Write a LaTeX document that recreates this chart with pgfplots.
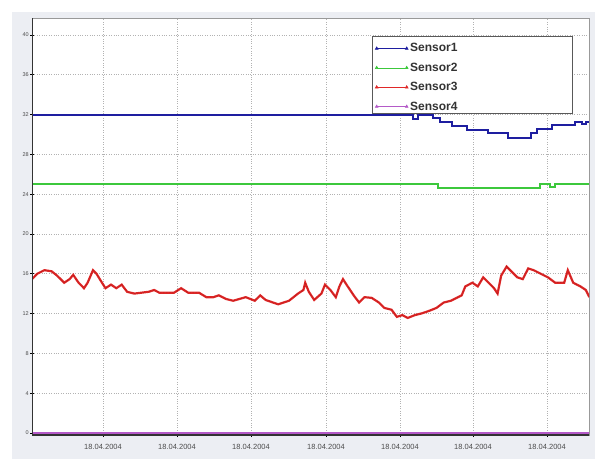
\documentclass[border=0pt]{standalone}
\usepackage{fontspec}
\setmainfont{Liberation Sans}
\setsansfont{Liberation Sans}
\usepackage{pgfplots}
\pgfplotsset{compat=1.18}

\definecolor{panelgray}{HTML}{ECEEF3}
\definecolor{sensorblue}{HTML}{1E1EA0}
\definecolor{sensorgreen}{HTML}{3CC83C}
\definecolor{sensorred}{HTML}{E02828}
\definecolor{sensordark}{HTML}{A01414}
\definecolor{sensorpurple}{HTML}{B45AC8}

\begin{document}
\begin{tikzpicture}
\fill[panelgray] (12pt,0) rectangle (595pt,447pt);
\begin{axis}[
    at={(32pt,24pt)}, anchor=south west,
    width=557pt, height=417pt, scale only axis,
    xmin=32, xmax=589, ymin=-0.2, ymax=41.7,
    axis background/.style={fill=white},
    axis line style={draw=gray!80, line width=0.8pt},
    xtick={103,177,251,326,400,473,547},
    xticklabels={18.04.2004, 18.04.2004, 18.04.2004, 18.04.2004,
      18.04.2004, 18.04.2004, 18.04.2004},
    ytick={0,4,...,40},
    xtick pos=bottom, ytick pos=left,
    tick align=center,
    major tick length=4pt,
    tick style={black, line width=0.8pt},
    /pgf/number format/assume math mode=true,
    x tick label style={font=\fontsize{7.5}{9}\selectfont, text=gray!60!black, inner sep=1pt, yshift=-6pt},
    y tick label style={font=\fontsize{5.5}{6}\selectfont, text=gray!60!black, inner sep=1pt},
    grid=major,
    major grid style={dotted, gray!60, line width=0.7pt},
    legend style={at={(0.616,0.944)}, anchor=north west, draw=none, fill=none,
      inner sep=0pt, row sep=5.5pt, font=\bfseries\fontsize{12}{13}\selectfont, text=black!80},
    legend cell align=left,
    legend image code/.code={
      \draw[#1, line width=0.6pt, mark=triangle*, mark size=1.6pt]
        plot coordinates {(0pt,0pt) (30pt,0pt)};},
]
\filldraw[fill=white, draw=gray!70!black, line width=0.8pt]
  (rel axis cs:0.612,0.957) rectangle (rel axis cs:0.971,0.771);

% Sensor1
\addplot[const plot, sensorblue, line width=2pt] coordinates {
  (32,32) (410,32) (413,31.6) (418,32) (433,31.63) (440,31.3) (452,30.87)
  (467,30.47) (488,30.13) (508,29.63) (531,30.13) (537,30.53) (552,30.9)
  (575,31.3) (582,31.0) (586,31.3) (589,31.3)
};
\addlegendentry{Sensor1}

% Sensor2
\addplot[const plot, sensorgreen, line width=2pt] coordinates {
  (32,25.05) (438,24.6) (540,25.05) (550,24.7) (555,25.05) (589,25.05)
};
\addlegendentry{Sensor2}

% Sensor3
\pgfplotstableread{
x y
32 15.46
37.2 16.0
44.4 16.36
51.6 16.25
57 15.82
64.2 15.10
69.6 15.46
73.2 15.89
78.6 15.10
84 14.55
87.6 15.10
93 16.36
96.5 16.0
102 15.10
105.5 14.55
111 14.91
116.3 14.55
121.7 14.91
127.1 14.19
134.3 14.01
148.7 14.19
154.1 14.37
159.5 14.09
173.9 14.09
181.1 14.55
188.3 14.09
199.1 14.09
206.3 13.65
213.5 13.65
218.8 13.83
226 13.47
233.2 13.29
245.8 13.65
254.8 13.29
260.2 13.83
265.6 13.37
278.2 12.93
289 13.29
298 14.01
303.4 14.37
305.2 15.10
308.8 14.19
314.2 13.37
321.4 14.01
325 14.91
330.4 14.37
335.8 13.65
339.4 14.73
343 15.46
346.5 14.91
350.1 14.37
353.7 13.83
359.1 13.11
364.5 13.65
371.7 13.58
378.9 13.11
384.3 12.57
391.5 12.39
396.9 11.67
402.3 11.85
407.7 11.56
414.9 11.85
422.1 12.03
429.3 12.28
436.5 12.57
443.7 13.11
450.9 13.29
458.1 13.65
461.7 13.83
465.3 14.73
472.4 15.10
477.8 14.73
483.2 15.64
488.6 15.10
494 14.55
497.6 14.01
501.2 15.82
506.6 16.72
512 16.18
517.4 15.64
522.8 15.46
528.2 16.54
533.6 16.36
540.8 16.0
548 15.64
555.2 15.10
564.2 15.10
567.8 16.36
573.2 15.10
580.4 14.73
585.8 14.37
589.4 13.65
}\sensorthree
\addplot[sensorred, line width=2.2pt] table[x=x, y=y] {\sensorthree};
\addlegendentry{Sensor3}
\addplot[sensordark, line width=0.5pt, densely dotted, forget plot] table[x=x, y=y] {\sensorthree};

% Sensor4
\addplot[sensorpurple, line width=2pt] coordinates {(32,0) (589,0)};
\addlegendentry{Sensor4}

\draw[black!80, line width=1.2pt]
  (rel axis cs:0,1) -- (rel axis cs:0,0) -- (rel axis cs:1,0);
\end{axis}
\pgfresetboundingbox
\path (0,0) rectangle (595pt,459pt);
\end{tikzpicture}
\end{document}
